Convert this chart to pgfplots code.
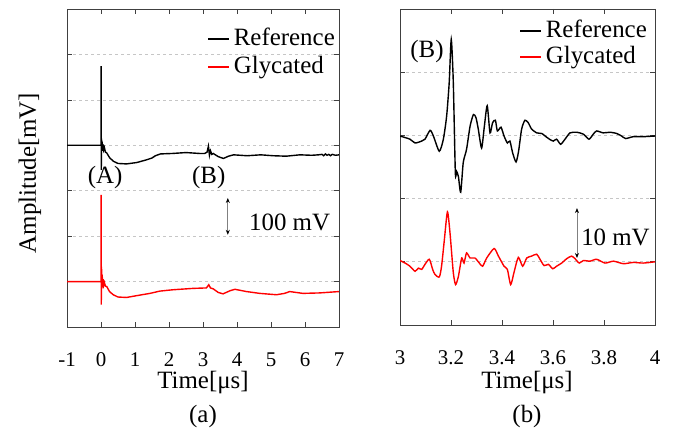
\documentclass[border=0pt]{standalone}
\usepackage{fontspec}
\setmainfont{Liberation Serif}
\usepackage{pgfplots}
\pgfplotsset{compat=1.18}
\usetikzlibrary{arrows.meta}

\tikzset{
  dimarrow/.style={gray, line width=0.8bp,
    {Stealth[black,length=5bp,width=4bp]}-{Stealth[black,length=5bp,width=4bp]}},
}

\pgfplotsset{
  legend image code/.code={\draw[#1] (0bp,0bp) -- (21bp,0bp);},
  wave/.style={
    scale only axis,
    ymin=0,
    axis line style={black!75},
    tick align=inside,
    major tick length=5bp,
    tick style={black!75, line width=0.6bp},
    yticklabels={},
    ymajorgrids,
    grid style={gray!45, dash pattern=on 3bp off 3bp, line width=0.6bp},
    /pgf/number format/assume math mode=true,
    xticklabel style={font=\fontsize{21}{25}\selectfont, yshift=-17bp},
    legend cell align=left,
    legend style={draw=none, fill=none, inner sep=0pt,
      font=\fontsize{25}{30}\selectfont,
      row sep=1bp, column sep=2bp, anchor=north east},
  },
}

\begin{document}
\fontsize{25}{30}\selectfont
\begin{tikzpicture}
\path[use as bounding box] (0bp,0bp) rectangle (675bp,428bp);

% (a) full record
\begin{axis}[wave,
  at={(67bp,101bp)}, anchor=south west,
  width=272bp, height=318bp,
  xmin=-1, xmax=7, ymax=7,
  xtick={-1,0,...,7}, ytick={1,...,6},
  legend style={at={(axis description cs:1,1)}, xshift=-2bp, yshift=-17bp, row sep=3bp},
]
\addplot[black, line width=1.4bp] coordinates {
  (-1,4) (0,4) (0.004,5.74) (0.008,3.46) (0.015,4.15) (0.025,3.9) (0.035,4.08)
  (0.05,3.88) (0.065,4.02) (0.08,3.9) (0.1,3.95) (0.13,3.85) (0.17,3.83)
  (0.25,3.73) (0.36,3.65) (0.5,3.60) (0.75,3.59) (1.05,3.62) (1.34,3.68)
  (1.5,3.72) (1.6,3.77) (1.75,3.81) (2.1,3.82) (2.5,3.84) (2.9,3.82)
  (3.05,3.82) (3.12,3.85) (3.16,3.98) (3.19,3.78) (3.22,3.88) (3.26,3.8)
  (3.3,3.82) (3.45,3.75) (3.6,3.71) (3.75,3.76) (3.9,3.79) (4.3,3.77)
  (4.7,3.79) (5.06,3.77) (5.45,3.76) (5.85,3.79) (6.2,3.78) (6.4,3.79)
  (6.5,3.80) (6.55,3.77) (6.6,3.81) (6.65,3.78) (6.7,3.80) (6.75,3.77)
  (6.8,3.80) (6.9,3.78) (7,3.79)
};
\addlegendentry{Reference}
\addplot[red, line width=1.4bp] coordinates {
  (-1,1) (0,1) (0.004,2.91) (0.008,0.49) (0.015,1.33) (0.025,0.85) (0.035,1.15)
  (0.05,0.88) (0.065,1.05) (0.08,0.92) (0.1,0.98) (0.13,0.9) (0.17,0.89)
  (0.25,0.78) (0.36,0.71) (0.5,0.66) (0.75,0.65) (1.05,0.69) (1.44,0.74)
  (1.73,0.79) (2.12,0.82) (2.71,0.85) (3.1,0.86) (3.17,0.93) (3.22,0.86)
  (3.3,0.84) (3.45,0.76) (3.59,0.73) (3.8,0.8) (3.94,0.83) (4.28,0.78)
  (4.67,0.74) (5.16,0.71) (5.4,0.74) (5.55,0.78) (5.94,0.74) (6.43,0.75)
  (7,0.78)
};
\addlegendentry{Glycated}
\node at (axis cs:0.12,3.28) {(A)};
\node at (axis cs:3.17,3.28) {(B)};
\draw[dimarrow] (axis cs:3.73,2.84) -- (axis cs:3.73,2.03);
\node[anchor=west, inner sep=0pt] at (axis cs:4.35,2.31) {100 mV};
\end{axis}

% (b) zoom on echo B
\begin{axis}[wave,
  at={(400bp,103bp)}, anchor=south west,
  width=255bp, height=316bp,
  xmin=3, xmax=4, ymax=5,
  xtick={3,3.2,3.4,3.6,3.8,4}, ytick={1,...,4},
  legend style={at={(axis description cs:1,1)}, xshift=-6bp, yshift=-9bp},
]
\addplot[black, line width=1.4bp, smooth, tension=0.4] coordinates {
  (3.0,2.99) (3.039,2.94) (3.059,2.88) (3.085,2.91) (3.098,2.94) (3.118,3.08)
  (3.131,2.99) (3.154,2.75) (3.17,2.94) (3.183,3.31) (3.193,3.84) (3.201,4.52)
  (3.209,3.84) (3.217,2.41) (3.222,2.43) (3.229,2.35) (3.238,2.10) (3.248,2.57)
  (3.261,2.78) (3.275,3.15) (3.288,3.33) (3.298,3.28) (3.307,3.10) (3.320,2.80)
  (3.331,3.15) (3.342,3.47) (3.353,3.04) (3.363,3.20) (3.374,3.24) (3.382,3.07)
  (3.396,3.13) (3.408,2.99) (3.421,2.88) (3.431,2.91) (3.442,2.72) (3.455,2.58)
  (3.465,2.75) (3.477,3.10) (3.490,3.24) (3.503,3.20) (3.516,3.10) (3.536,3.04)
  (3.556,3.03) (3.569,2.99) (3.586,2.94) (3.601,2.91) (3.614,2.94) (3.630,2.86)
  (3.647,2.94) (3.667,3.04) (3.693,3.05) (3.719,3.02) (3.741,2.94) (3.758,3.02)
  (3.771,3.07) (3.797,3.04) (3.824,3.05) (3.850,3.03) (3.869,2.99) (3.885,2.95)
  (3.915,2.98) (3.954,2.98) (4.0,2.99)
};
\addlegendentry{Reference}
\addplot[red, line width=1.4bp, smooth, tension=0.4] coordinates {
  (3.0,1.02) (3.020,0.98) (3.039,0.93) (3.059,0.85) (3.072,0.90) (3.085,0.88)
  (3.098,0.96) (3.115,1.04) (3.128,0.88) (3.137,0.80) (3.154,0.76) (3.163,0.93)
  (3.174,1.35) (3.186,1.79) (3.196,1.46) (3.209,0.83) (3.218,0.64) (3.229,0.77)
  (3.242,1.06) (3.251,0.98) (3.261,1.14) (3.275,1.06) (3.294,1.06) (3.311,0.98)
  (3.324,0.93) (3.340,1.06) (3.369,1.21) (3.386,1.09) (3.408,0.93) (3.421,0.88)
  (3.434,0.64) (3.447,0.83) (3.464,1.07) (3.481,0.93) (3.497,1.06) (3.516,1.09)
  (3.536,1.12) (3.549,1.04) (3.565,0.94) (3.582,0.96) (3.599,0.89) (3.614,0.93)
  (3.634,0.98) (3.654,1.05) (3.673,1.09) (3.686,1.05) (3.703,0.98) (3.719,1.02)
  (3.745,1.01) (3.771,1.04) (3.804,0.98) (3.837,1.01) (3.876,0.97) (3.915,0.99)
  (3.954,0.98) (4.0,1.0)
};
\addlegendentry{Glycated}
\node at (axis cs:3.106,4.32) {(B)};
\draw[dimarrow] (axis cs:3.694,1.85) -- (axis cs:3.694,1.06);
\node[anchor=west, inner sep=0pt] at (axis cs:3.71,1.38) {10 mV};
\end{axis}

% labels outside the axes
\node[rotate=90] at (30bp,255bp) {Amplitude[mV]};
\node at (203bp,45bp) {Time[μs]};
\node at (203bp,11bp) {(a)};
\node at (527bp,45bp) {Time[μs]};
\node at (527bp,11bp) {(b)};
\end{tikzpicture}
\end{document}
